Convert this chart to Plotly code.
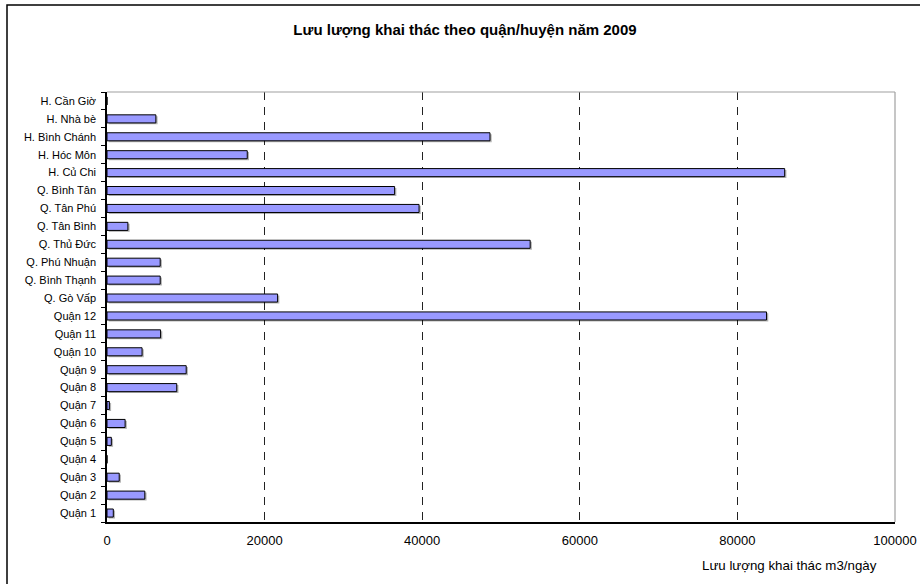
import plotly.graph_objects as go

# Districts, listed bottom to top on the chart
districts = [
    "Quận 1", "Quận 2", "Quận 3", "Quận 4", "Quận 5", "Quận 6", "Quận 7",
    "Quận 8", "Quận 9", "Quận 10", "Quận 11", "Quận 12", "Q. Gò Vấp",
    "Q. Bình Thạnh", "Q. Phú Nhuận", "Q. Thủ Đức", "Q. Tân Bình",
    "Q. Tân Phú", "Q. Bình Tân", "H. Củ Chi", "H. Hóc Môn", "H. Bình Chánh",
    "H. Nhà bè", "H. Cần Giờ",
]

# Extraction flow, m3/day (2009)
flow = [
    800, 4800, 1550, 0, 550, 2300, 300,
    8850, 10050, 4450, 6800, 83700, 21650,
    6750, 6750, 53700, 2650,
    39600, 36500, 86000, 17800, 48600,
    6200, 0,
]

x_ticks = [0, 20000, 40000, 60000, 80000, 100000]

title_text = "Lưu lượng khai thác theo quận/huyện năm 2009"
x_title_text = "Lưu lượng khai thác m3/ngày"

FONT = "Liberation Sans, Arial, sans-serif"
BAR_W = 0.45

fig = go.Figure()

# soft drop shadow behind each non-empty bar
shadow = [v if v > 0 else None for v in flow]
fig.add_trace(go.Bar(
    y=districts, x=shadow, orientation="h",
    width=BAR_W, offset=-BAR_W / 2 - 0.08, base=220,
    marker=dict(color="rgba(0,0,0,0.3)", line=dict(width=0)),
    hoverinfo="skip", showlegend=False,
))

fig.add_trace(go.Bar(
    y=districts, x=flow, orientation="h",
    width=BAR_W, offset=-BAR_W / 2,
    marker=dict(color="#9999FF", line=dict(color="#000000", width=1)),
    showlegend=False,
))

fig.update_layout(
    width=920, height=584,
    margin=dict(l=107, r=25, t=92, b=62, autoexpand=False),
    paper_bgcolor="white", plot_bgcolor="white",
    barmode="overlay",
    font=dict(family=FONT, color="#000000", size=11),
    title=dict(
        text="<b>" + title_text + "</b>",
        x=465 / 920, xanchor="center", xref="container",
        y=1 - 30 / 584, yanchor="middle", yref="container",
        font=dict(family=FONT, size=15, color="#000000"),
    ),
    xaxis=dict(
        range=[0, 100000], automargin=False,
        tickvals=x_ticks, tickformat="d",
        showline=True, linecolor="#000000", linewidth=1.5,
        ticks="", ticklabelstandoff=6,
        showgrid=True, gridcolor="#222222", gridwidth=1, griddash="8px,7px",
        zeroline=False,
        tickfont=dict(family=FONT, size=13, color="#000000"),
    ),
    yaxis=dict(
        type="category", automargin=False,
        showline=True, linecolor="#000000", linewidth=1.5,
        ticks="outside", tickson="boundaries", ticklen=4,
        tickcolor="#000000", tickwidth=1,
        showgrid=False, zeroline=False,
        tickfont=dict(family=FONT, size=11, color="#000000"),
        ticklabelstandoff=7,
    ),
    annotations=[dict(
        text=x_title_text, xref="paper", yref="paper",
        x=(879 - 107) / 788, y=(522 - 565) / 430,
        xanchor="right", yanchor="middle", showarrow=False,
        font=dict(family=FONT, size=13.3, color="#000000"),
    )],
    shapes=[
        # light grey frame on top and right of the plot area
        dict(type="line", xref="paper", yref="paper", x0=0, x1=1, y0=1, y1=1,
             line=dict(color="#A0A0A0", width=1.2), layer="above"),
        dict(type="line", xref="paper", yref="paper", x0=1, x1=1, y0=0, y1=1,
             line=dict(color="#A0A0A0", width=1.2), layer="above"),
        # outer chart border
        dict(type="rect", xref="paper", yref="paper",
             x0=(7 - 107) / 788, x1=(930 - 107) / 788,
             y0=(522 - 600) / 430, y1=(522 - 5) / 430,
             line=dict(color="#000000", width=1.5), layer="above"),
    ],
)

fig.write_html("out.html")
